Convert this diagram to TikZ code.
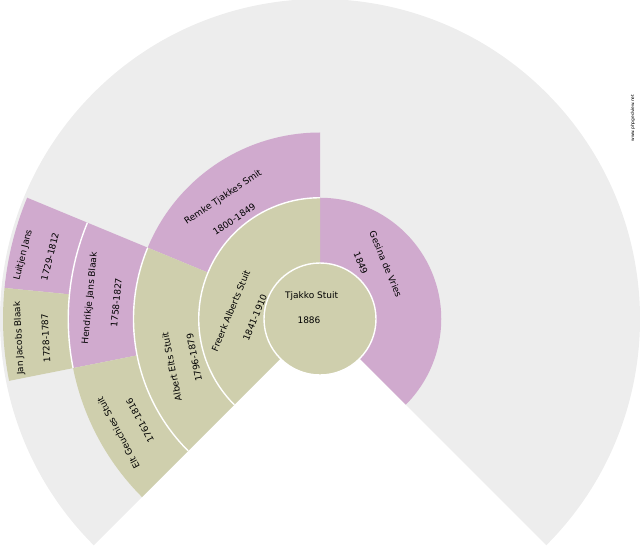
\documentclass[tikz,border=0pt]{standalone}
\usepackage{fontspec}
\setmainfont{DejaVu Sans}
\definecolor{pk}{HTML}{D0AACE}
\definecolor{ol}{HTML}{CFCFAD}
\definecolor{gr}{HTML}{EDEDED}
\begin{document}
\begin{tikzpicture}[x=1pt,y=1pt,
  lbl/.style={font=\fontsize{9}{10}\selectfont, inner sep=0pt, text=black},
  wmark/.style={font=\fontsize{4.4}{5}\selectfont, inner sep=0pt, text=black},
  gap/.style={draw=white, line width=1.4pt}]
\useasboundingbox (0,0) rectangle (640,550);
\begin{scope}[shift={(320,231)}]
\def\fanseg#1#2#3#4#5{\fill[#5] (#1:#2) arc[start angle=#1,end angle=#3,radius=#2pt] -- (#3:#4) arc[start angle=#3,end angle=#1,radius=#4pt] -- cycle;}
% background sector
\fill[gr] (0,0) -- (-45:320) arc[start angle=-45,end angle=225,radius=320pt] -- cycle;
% ring 1
\fanseg{-45}{56}{90}{121.25}{pk}
\fanseg{90}{56}{225}{121.25}{ol}
% ring 2
\fanseg{90}{121.25}{157.5}{186.5}{pk}
\fanseg{157.5}{121.25}{225}{186.5}{ol}
% ring 3
\fanseg{157.5}{186.5}{191.25}{251.75}{pk}
\fanseg{191.25}{186.5}{225}{251.75}{ol}
% ring 4
\fanseg{157.5}{251.75}{174.375}{317}{pk}
\fanseg{174.375}{251.75}{191.25}{317}{ol}
% centre
\fill[ol] (0,0) circle[radius=56pt];
% white separators
\draw[gap] (0,0) circle[radius=56pt];
\draw[gap] (90:121.25) arc[start angle=90,end angle=225,radius=121.25pt];
\draw[gap] (157.5:186.5) arc[start angle=157.5,end angle=225,radius=186.5pt];
\draw[gap] (157.5:251.75) arc[start angle=157.5,end angle=191.25,radius=251.75pt];
\end{scope}
% texts
\node[lbl] (n0) at (311.7,254.3) {Tjakko Stuit};
\node[lbl] (d0) at (309,229.3) {1886};
\node[lbl,rotate=-67.5] (n2) at (385.8,285.8) {Gesina de Vries};
\node[lbl,rotate=-67.5] (d2) at (360.8,286.7) {1849};
\node[lbl,rotate=67.5] (n1) at (230.8,239.2) {Freerk Alberts Stuit};
\node[lbl,rotate=67.5] (d1) at (255,232.5) {1841-1910};
\node[lbl,rotate=33.75] (n3) at (223.3,352.5) {Remke Tjakkes Smit};
\node[lbl,rotate=33.75] (d3) at (234.2,330.8) {1800-1849};
\node[lbl,rotate=101.25] (n4) at (171.7,183.3) {Albert Elts Stuit};
\node[lbl,rotate=101.25] (d4) at (194.2,192.5) {1796-1879};
\node[lbl,rotate=84.375] (n5) at (90,251.7) {Hendrikje Jans Blaak};
\node[lbl,rotate=84.375] (d5) at (116.3,247.5) {1758-1827};
\node[lbl,rotate=118.125] (n6) at (118.3,117.2) {Elt Geuchies Stuit};
\node[lbl,rotate=118.125] (d6) at (140,129.2) {1761-1816};
\node[lbl,rotate=75.94] (n7) at (23.3,295) {Luitjen Jans};
\node[lbl,rotate=75.94] (d7) at (50,293.3) {1729-1812};
\node[lbl,rotate=92.8] (n8) at (19.2,211.7) {Jan Jacobs Blaak};
\node[lbl,rotate=92.8] (d8) at (45.8,211.7) {1728-1787};
\node[wmark,rotate=90] (wm) at (633,432) {www.phpgedview.net};
\end{tikzpicture}
\end{document}
